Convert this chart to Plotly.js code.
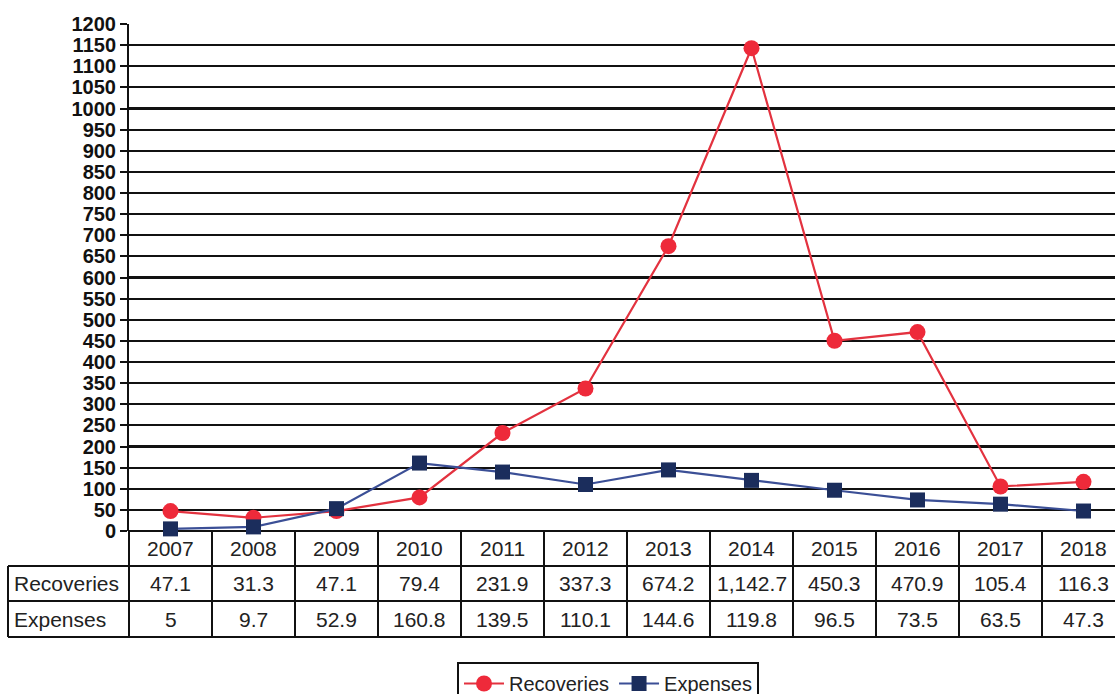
<!DOCTYPE html>
<html>
<head>
<meta charset="utf-8">
<script src="https://cdn.plot.ly/plotly-3.0.1.min.js"></script>
<style>html,body{margin:0;padding:0;background:#fff;}#chart{width:1115px;height:694px;}</style>
</head>
<body>
<div id="chart"></div>
<script>
const years = ['2007','2008','2009','2010','2011','2012','2013','2014','2015','2016','2017','2018'];
const recoveries = [47.1, 31.3, 47.1, 79.4, 231.9, 337.3, 674.2, 1142.7, 450.3, 470.9, 105.4, 116.3];
const expenses = [5, 9.7, 52.9, 160.8, 139.5, 110.1, 144.6, 119.8, 96.5, 73.5, 63.5, 47.3];
const seriesNames = ['Recoveries', 'Expenses'];
const yTicks = [0,50,100,150,200,250,300,350,400,450,500,550,600,650,700,750,800,850,900,950,1000,1050,1100,1150,1200];

// layout geometry (pixels)
const W = 1115, H = 694, L = 129, T = 24, B0 = 531;
const plotH = B0 - T, plotW = W - L;
const colW = 83;
const py = p => (B0 - p) / plotH;          // pixel y -> paper y
const px = p => (p - L) / plotW;           // pixel x -> paper x
const rowLines = [531, 566, 601, 637];
const labelLeft = 8;

const idx = years.map((_, i) => i);
const fmt = v => v.toLocaleString('en-US', {maximumFractionDigits: 1});

const traces = [
  {x: idx, y: recoveries, name: seriesNames[0], type: 'scatter', mode: 'lines+markers',
   line: {color: '#e3323f', width: 2.2}, marker: {symbol: 'circle', size: 16, color: '#ee2a3a'}, cliponaxis: false},
  {x: idx, y: expenses, name: seriesNames[1], type: 'scatter', mode: 'lines+markers',
   line: {color: '#3b4f96', width: 2.2}, marker: {symbol: 'square', size: 15, color: '#1b2d5c'}, cliponaxis: false}
];

const shapes = [];
const lineStyle = {color: '#111', width: 2};
// x-axis / top of table
shapes.push({type: 'line', xref: 'paper', yref: 'paper', x0: 0, x1: 1, y0: 0, y1: 0, line: {color: '#111', width: 2.2}, layer: 'below'});
// horizontal table lines
shapes.push({type: 'line', xref: 'paper', yref: 'paper', x0: 0, x1: 1, y0: py(rowLines[3]), y1: py(rowLines[3]), line: lineStyle});
shapes.push({type: 'line', xref: 'paper', yref: 'paper', x0: px(labelLeft), x1: 1, y0: py(rowLines[1]), y1: py(rowLines[1]), line: lineStyle});
shapes.push({type: 'line', xref: 'paper', yref: 'paper', x0: px(labelLeft), x1: 1, y0: py(rowLines[2]), y1: py(rowLines[2]), line: lineStyle});
shapes.push({type: 'line', xref: 'paper', yref: 'paper', x0: px(labelLeft), x1: 0, y0: py(rowLines[3]), y1: py(rowLines[3]), line: lineStyle});
// label column left border
shapes.push({type: 'line', xref: 'paper', yref: 'paper', x0: px(labelLeft), x1: px(labelLeft), y0: py(rowLines[1]), y1: py(rowLines[3]), line: lineStyle});
// left border of data table
shapes.push({type: 'line', xref: 'paper', yref: 'paper', x0: 0, x1: 0, y0: py(rowLines[0]), y1: py(rowLines[3]), line: lineStyle});
// column separators
for (let i = 0; i < years.length; i++) {
  shapes.push({type: 'line', xref: 'x', yref: 'paper', x0: i + 0.5, x1: i + 0.5, y0: py(rowLines[0]), y1: py(rowLines[3]), line: lineStyle});
}

const annotations = [];
const tf = {family: 'Liberation Sans, Arial, sans-serif', size: 21, color: '#222'};
const rowMid = r => py((rowLines[r] + rowLines[r + 1]) / 2);
years.forEach((yr, i) => {
  annotations.push({x: i, y: rowMid(0), xref: 'x', yref: 'paper', yanchor: 'middle', text: yr, showarrow: false, font: tf});
  annotations.push({x: i, y: rowMid(1), xref: 'x', yref: 'paper', yanchor: 'middle', text: fmt(recoveries[i]), showarrow: false, font: tf});
  annotations.push({x: i, y: rowMid(2), xref: 'x', yref: 'paper', yanchor: 'middle', text: fmt(expenses[i]), showarrow: false, font: tf});
});
annotations.push({x: px(12), y: rowMid(1), xref: 'paper', yref: 'paper', xanchor: 'left', yanchor: 'middle', text: seriesNames[0], showarrow: false, font: tf});
annotations.push({x: px(12), y: rowMid(2), xref: 'paper', yref: 'paper', xanchor: 'left', yanchor: 'middle', text: seriesNames[1], showarrow: false, font: tf});

const layout = {
  width: W, height: H,
  margin: {l: L, r: 0, t: T, b: H - B0, pad: 0, autoexpand: false},
  paper_bgcolor: '#fff', plot_bgcolor: '#fff',
  showlegend: true,
  legend: {orientation: 'h', x: px(608), xanchor: 'center', y: py(662), yanchor: 'top',
           bordercolor: '#111', borderwidth: 2, bgcolor: '#fff',
           font: {family: 'Liberation Sans, Arial, sans-serif', size: 20, color: '#222'},
           itemwidth: 40, tracegroupgap: 0},
  xaxis: {range: [-0.5, -0.5 + plotW / colW], showgrid: false, zeroline: false, showticklabels: false,
          ticks: '', showline: false, fixedrange: true, automargin: false},
  yaxis: {range: [0, 1200], tickvals: yTicks, ticktext: yTicks.map(String),
          showgrid: true, gridcolor: '#111', gridwidth: 2.2, zeroline: false,
          showline: true, linecolor: '#111', linewidth: 2,
          ticks: 'outside', ticklen: 7, tickwidth: 2, tickcolor: '#111',
          tickfont: {family: 'Liberation Sans, Arial, sans-serif', size: 20, color: '#111', weight: 'bold'},
          fixedrange: true, automargin: false},
  shapes: shapes,
  annotations: annotations
};

Plotly.newPlot('chart', traces, layout, {displayModeBar: false, staticPlot: true});
</script>
</body>
</html>
